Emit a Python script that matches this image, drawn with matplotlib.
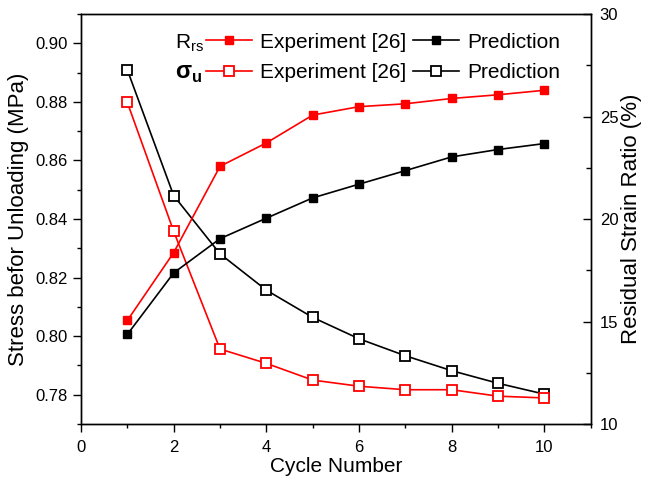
import matplotlib

matplotlib.use("Agg")

import matplotlib.pyplot as plt
from matplotlib.ticker import MultipleLocator

plt.rcParams["font.family"] = ["Liberation Sans", "DejaVu Sans"]

cycles = [1, 2, 3, 4, 5, 6, 7, 8, 9, 10]

# residual strain ratio (%), right axis
rrs_experiment = [15.05, 18.36, 22.57, 23.71, 25.07, 25.48, 25.62, 25.88, 26.06, 26.28]
rrs_prediction = [14.37, 17.37, 19.04, 20.04, 21.03, 21.70, 22.36, 23.03, 23.39, 23.68]

# stress before unloading (MPa), left axis
su_experiment = [0.8798, 0.8358, 0.7956, 0.7907, 0.7850, 0.7829, 0.7817, 0.7817, 0.7795, 0.7789]
su_prediction = [0.8909, 0.8480, 0.8281, 0.8157, 0.8064, 0.7991, 0.7933, 0.7882, 0.7839, 0.7802]

RED = "#ff0000"
BLACK = "#000000"

fig = plt.figure(figsize=(6.48, 4.9), dpi=100)
ax = fig.add_axes([0.125, 0.1347, 0.9116 - 0.125, 0.9714 - 0.1347])
ax2 = ax.twinx()

open_kw = dict(linewidth=1.2, markersize=7, markeredgewidth=1.3, marker="s",
               markerfacecolor="white")
full_kw = dict(linewidth=1.2, markersize=6, markeredgewidth=1.0, marker="s")

ax.plot(cycles, su_prediction, color=BLACK, markeredgecolor=BLACK,
        label="Prediction", **open_kw)
ax.plot(cycles, su_experiment, color=RED, markeredgecolor=RED,
        label="Experiment [26]", **open_kw)
ax2.plot(cycles, rrs_prediction, color=BLACK, markerfacecolor=BLACK,
         markeredgecolor=BLACK, label="Prediction", **full_kw)
ax2.plot(cycles, rrs_experiment, color=RED, markerfacecolor=RED,
         markeredgecolor=RED, label="Experiment [26]", **full_kw)

ax.set_xlim(0, 11)
ax.set_ylim(0.77, 0.91)
ax2.set_ylim(10, 30)

ax.xaxis.set_major_locator(MultipleLocator(2))
ax.xaxis.set_minor_locator(MultipleLocator(1))
ax.yaxis.set_major_locator(MultipleLocator(0.02))
ax.yaxis.set_minor_locator(MultipleLocator(0.01))
ax2.yaxis.set_major_locator(MultipleLocator(5))
ax2.yaxis.set_minor_locator(MultipleLocator(2.5))
ax.yaxis.set_major_formatter(lambda v, pos: f"{v:.2f}")
ax.set_xticks([0, 2, 4, 6, 8, 10])

ax.tick_params(which="major", direction="out", length=5.8, width=1.0, labelsize=12)
ax.tick_params(which="minor", direction="out", length=3, width=1.0)
ax.tick_params(axis="x", which="major", pad=6)
ax.tick_params(axis="y", which="major", pad=3.5)
ax2.tick_params(which="major", direction="in", length=5.8, width=1.0, labelsize=12, pad=6.5)
ax2.tick_params(which="minor", direction="in", length=3.5, width=1.0)
for a in (ax, ax2):
    for s in a.spines.values():
        s.set_linewidth(1.0)

ax.set_xlabel("Cycle Number", fontsize=15, labelpad=1)
ax.set_ylabel("Stress befor Unloading (MPa)", fontsize=16, labelpad=5)
ax2.set_ylabel("Residual Strain Ratio (%)", fontsize=16, labelpad=2)

# two-row legend: experiment column and prediction column
handles = [ax2.lines[1], ax.lines[1], ax2.lines[0], ax.lines[0]]
labels = ["Experiment [26]", "Experiment [26]", "Prediction", "Prediction"]
ax2.legend(handles, labels, ncol=2, frameon=False, fontsize=15,
           loc="upper left", bbox_to_anchor=(0.229, 0.975),
           handlelength=2.2, handletextpad=0.4, columnspacing=0.3,
           labelspacing=0.55, borderaxespad=0.0)

ax2.text(0.184, 0.928, r"R$_\mathregular{rs}$", transform=ax2.transAxes,
         fontsize=15, ha="left", va="center")
ax2.text(0.184, 0.855, r"σ$_\mathregular{u}$", transform=ax2.transAxes,
         fontsize=17, fontweight="bold", ha="left", va="center")

fig.savefig("out.png", dpi=100)
